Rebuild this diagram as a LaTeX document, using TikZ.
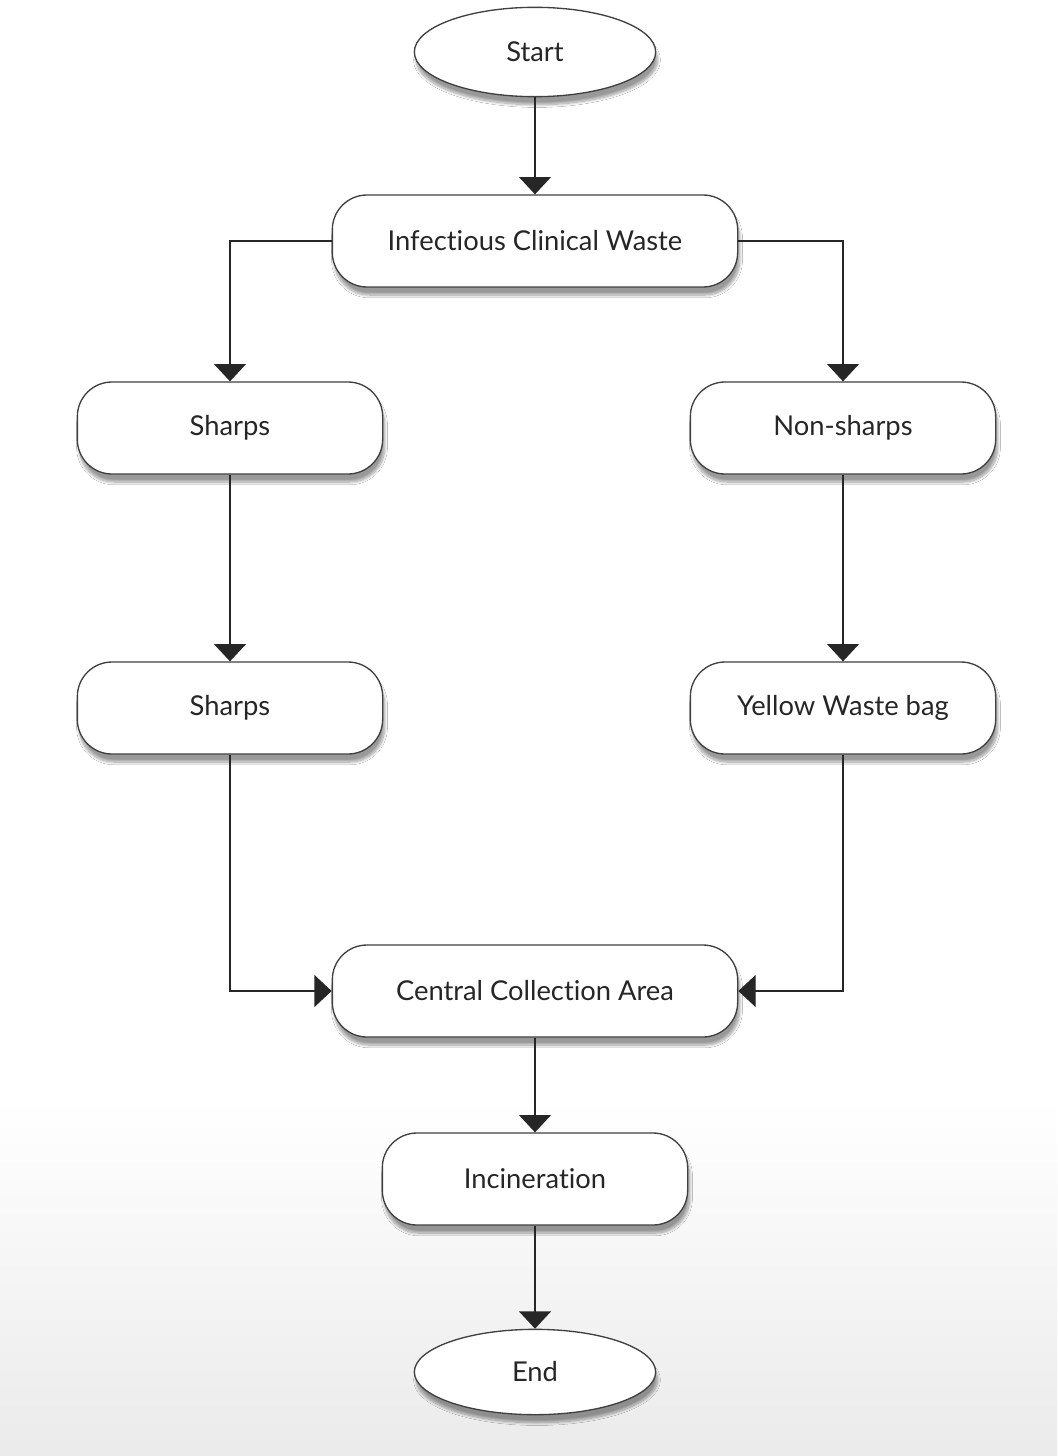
\documentclass[tikz,border=0pt]{standalone}
\usepackage{fontspec}
\setmainfont{Lato}[Ligatures=NoCommon]
\usetikzlibrary{shapes.geometric,arrows.meta,shadows.blur}

\tikzset{
  box/.style={draw=black!75, line width=1pt, fill=white, rounded corners=26pt,
    minimum width=229pt, minimum height=69pt,
    blur shadow={shadow xshift=1.5pt, shadow yshift=-6pt, shadow blur steps=12, shadow opacity=40},
    font=\fontsize{20.5}{24}\selectfont, text=black!85},
  wide/.style={box, minimum width=304pt},
  term/.style={box, ellipse, sharp corners, minimum width=181pt, minimum height=67pt},
  arr/.style={draw=black!85, line width=1pt, -{Triangle[width=24pt,length=13pt]}}
}

\begin{document}
\begin{tikzpicture}[x=0.75pt,y=0.75pt]
\useasboundingbox (0,0) rectangle (1057,-1456);
\fill[white] (0,0) rectangle (1057,-1100);
\fill[top color=white, bottom color=black!8] (0,-1100) rectangle (1057,-1456);

\node[term] (start) at (535,-52) {Start};
\node[wide] (icw) at (535,-241) {Infectious Clinical Waste};
\node[box] (sharpsA) at (230,-428) {Sharps};
\node[box] (nonsharps) at (843,-428) {Non-sharps};
\node[box] (sharpsB) at (230,-708) {Sharps};
\node[box] (yellow) at (843,-708) {Yellow Waste bag};
\node[wide] (cca) at (535,-991) {Central Collection Area};
\node[box] (incin) at (535,-1179) {Incineration};
\node[term, minimum height=64pt] (end) at (535,-1372) {End};

\draw[arr] (start) -- (icw);
\draw[arr] (icw.west) -| (sharpsA.north);
\draw[arr] (icw.east) -| (nonsharps.north);
\draw[arr] (sharpsA) -- (sharpsB);
\draw[arr] (nonsharps) -- (yellow);
\draw[arr] (sharpsB.south) |- (cca.west);
\draw[arr] (yellow.south) |- (cca.east);
\draw[arr] (cca) -- (incin);
\draw[arr] (incin) -- (end);
\end{tikzpicture}
\end{document}
